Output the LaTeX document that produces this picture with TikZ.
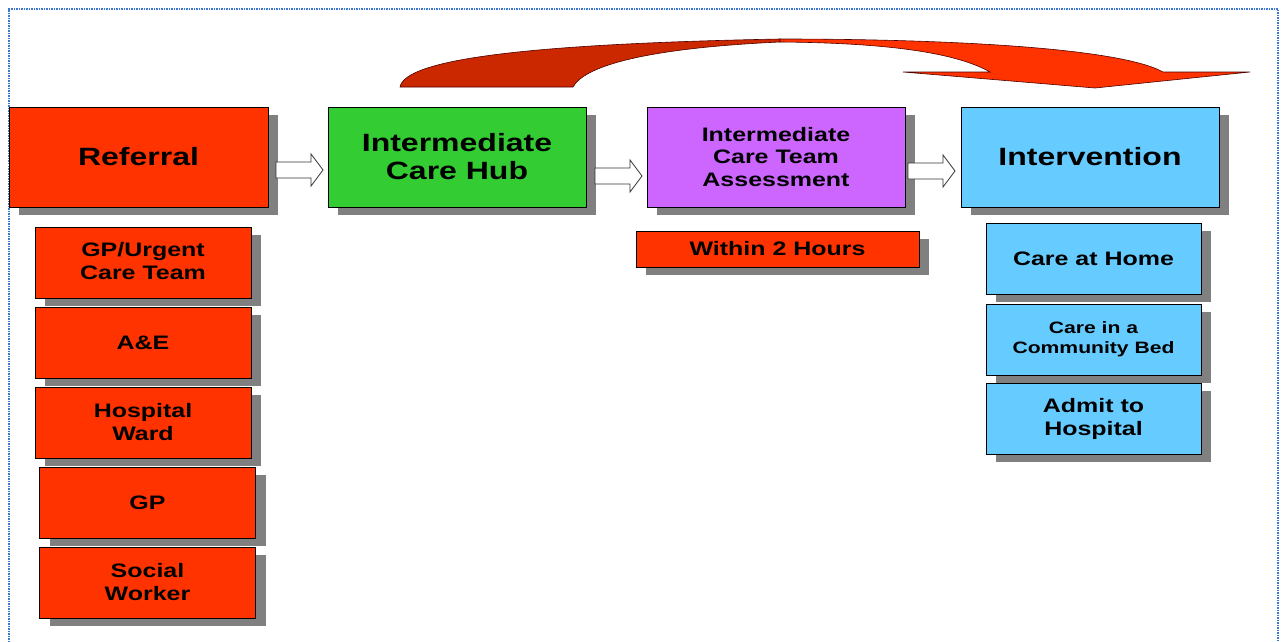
\documentclass[tikz,border=0pt]{standalone}
\usepackage{fontspec}
\setmainfont{Liberation Sans}[FakeStretch=1.28]
\usetikzlibrary{calc,shadows}

\definecolor{redbox}{RGB}{255,51,0}
\definecolor{darkred}{RGB}{204,40,0}
\definecolor{greenbox}{RGB}{51,204,51}
\definecolor{violetbox}{RGB}{204,102,255}
\definecolor{bluebox}{RGB}{102,204,255}
\definecolor{shadowgray}{RGB}{128,128,128}
\definecolor{framecol}{RGB}{60,120,210}

\tikzset{
  box/.style={draw=black, line width=0.8pt, inner sep=0pt, align=center,
    font=\bfseries, text=black,
    drop shadow={shadow xshift=10pt, shadow yshift=-8pt, fill=shadowgray, opacity=1}},
  headbox/.style={box, minimum width=258pt, minimum height=100pt},
  subbox/.style={box, minimum width=216pt, minimum height=71pt},
  hollow arrow/.pic={
    \draw[fill=white, line width=0.8pt, draw=black!80] (-23.5,-8) -- (11.5,-8) -- (11.5,-16) -- (23.5,0) -- (11.5,16) -- (11.5,8) -- (-23.5,8) -- cycle;
  }
}

\begin{document}
\begin{tikzpicture}[x=1pt,y=-1pt]
		\useasboundingbox (0,0) rectangle (1284,642);

		%Frame
		\draw [framecol, line width=1.6pt, dash pattern=on 1.5pt off 1pt] (9,642) -- (9,9) -- (1278,9) -- (1278,642) ;

		%Curved Arrow: back part
		\draw [fill=darkred, draw=black!70!red, line width=0.6pt] (400,87) -- (573,87) .. controls (585,65) and (650,48) .. (780,42) -- (780,39) .. controls (520,44) and (405,60) .. (400,87) -- cycle ;
		%Curved Arrow: front part
		\draw [fill=redbox, draw=black!70!red, line width=0.6pt] (780,39) .. controls (950,39) and (1120,48) .. (1163,72) -- (1250,72) -- (1095,88) -- (903,72) -- (990,72) .. controls (960,55) and (900,43) .. (780,42) -- cycle ;

		% Main boxes
		\node [headbox, fill=redbox, minimum width=259pt, font=\bfseries\fontsize{25}{28}\selectfont] (ref) at (138.5,157) {Referral};
		\node [headbox, fill=greenbox, font=\bfseries\fontsize{25}{28}\selectfont] (hub) at (457,157) {Intermediate\\Care Hub};
		\node [headbox, fill=violetbox, font=\bfseries\fontsize{19.5}{22.5}\selectfont] (ict) at (776,157) {Intermediate\\Care Team\\Assessment};
		\node [headbox, fill=bluebox, font=\bfseries\fontsize{25}{28}\selectfont] (intv) at (1090,157) {Intervention};

		% Hollow arrows
		\pic at ($(ref.east)!0.5!(hub.west)+(1.5,13)$) {hollow arrow};
		\pic at ($(hub.east)!0.5!(ict.west)+(2,19)$) {hollow arrow};
		\pic at ($(ict.east)!0.5!(intv.west)+(-1.5,14)$) {hollow arrow};

		% Time box
		\node [box, fill=redbox, minimum width=283pt, minimum height=36pt, font=\bfseries\fontsize{19.5}{23}\selectfont] (within) at (777.5,249) {Within 2 Hours};

		% Referral sources
		\node [subbox, fill=redbox, font=\bfseries\fontsize{19.5}{23}\selectfont] (urgent) at (143,262.5) {GP/Urgent\\Care Team\vphantom{g}};
		\node [subbox, fill=redbox, font=\bfseries\fontsize{19.5}{23}\selectfont] (ae) at (143,342.5) {A\&E};
		\node [subbox, fill=redbox, font=\bfseries\fontsize{19.5}{23}\selectfont] (ward) at (143,422.5) {Hospital\\Ward};
		\node [subbox, fill=redbox, font=\bfseries\fontsize{19.5}{23}\selectfont] (gp) at (147.5,502.5) {GP};
		\node [subbox, fill=redbox, font=\bfseries\fontsize{19.5}{23}\selectfont] (social) at (147.5,582.5) {Social\\Worker};

		% Intervention options
		\node [subbox, fill=bluebox, minimum width=215pt, font=\bfseries\fontsize{19.5}{23}\selectfont] (home) at (1093.5,258.5) {Care at Home};
		\node [subbox, fill=bluebox, minimum width=215pt, font=\bfseries\fontsize{16.5}{20}\selectfont] (bed) at (1093.5,339.5) {Care in a\\Community Bed};
		\node [subbox, fill=bluebox, minimum width=215pt, font=\bfseries\fontsize{19.5}{23}\selectfont] (admit) at (1093.5,418.5) {Admit to\\Hospital};

\end{tikzpicture}
\end{document}
